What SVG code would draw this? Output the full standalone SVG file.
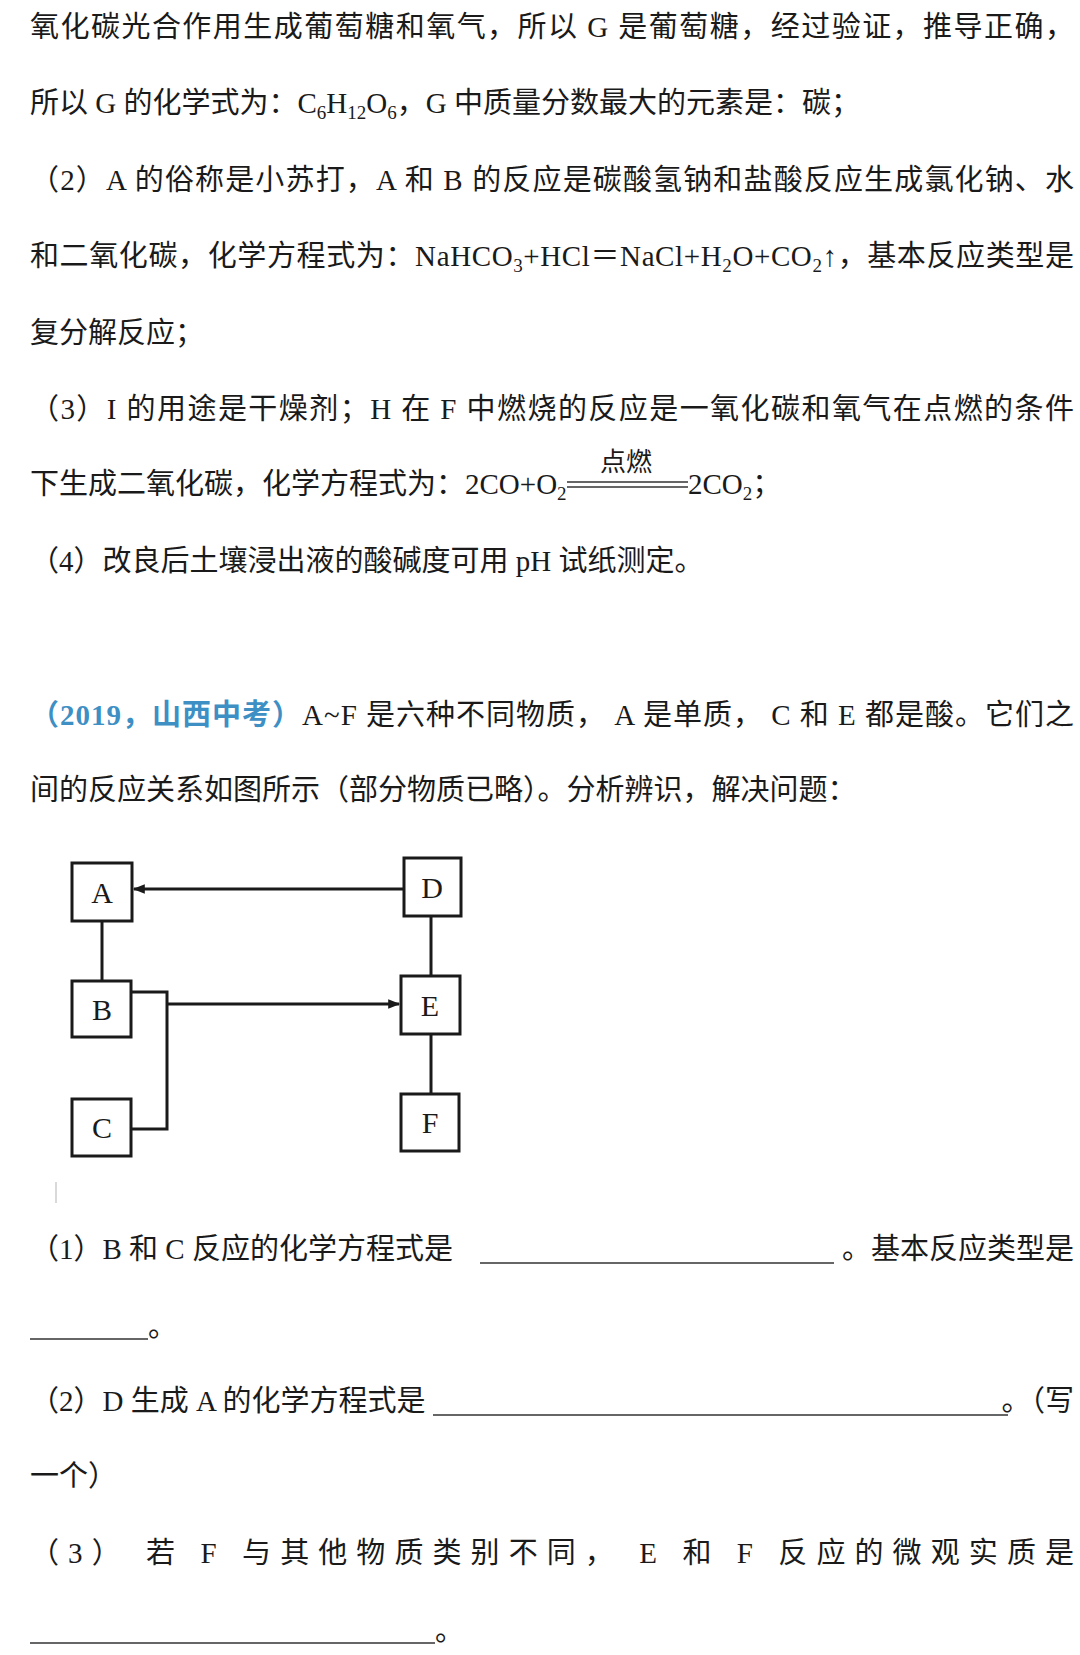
<svg xmlns="http://www.w3.org/2000/svg" width="1080" height="1655" viewBox="0 0 1080 1655">
<style>
text{font-family:"Liberation Serif","Noto Sans CJK SC",serif;font-size:29px;fill:#1a1a1a}
.blue{fill:#3d8fc4;font-weight:bold}
.sub{font-size:19px}
.box rect{fill:#fff;stroke:#1a1a1a;stroke-width:3}
.box text{font-size:30px;text-anchor:middle}
.ln{stroke:#1a1a1a;stroke-width:3;fill:none}
.ul{stroke:#333;stroke-width:1.5}
</style>
<defs><marker id="ar" viewBox="0 0 10 10" refX="9" refY="5" markerWidth="5" markerHeight="4" orient="auto"><path d="M0 1 L10 5 L0 9 Z" fill="#1a1a1a"/></marker></defs>
<rect width="1080" height="1655" fill="#fff"/>
<text x="30" y="37" textLength="1044" lengthAdjust="spacing">氧化碳光合作用生成葡萄糖和氧气，所以 G 是葡萄糖，经过验证，推导正确，</text>
<text x="30" y="113">所以 G 的化学式为：C<tspan class="sub" dy="6">6</tspan><tspan dy="-6">H</tspan><tspan class="sub" dy="6">12</tspan><tspan dy="-6">O</tspan><tspan class="sub" dy="6">6</tspan><tspan dy="-6">，G 中质量分数最大的元素是：碳；</tspan></text>
<text x="30" y="190" textLength="1044" lengthAdjust="spacing">（2）A 的俗称是小苏打，A 和 B 的反应是碳酸氢钠和盐酸反应生成氯化钠、水</text>
<text x="30" y="266" textLength="1044" lengthAdjust="spacing">和二氧化碳，化学方程式为：NaHCO<tspan class="sub" dy="6">3</tspan><tspan dy="-6">+HCl＝NaCl+H</tspan><tspan class="sub" dy="6">2</tspan><tspan dy="-6">O+CO</tspan><tspan class="sub" dy="6">2</tspan><tspan dy="-6">↑，基本反应类型是</tspan></text>
<text x="30" y="343">复分解反应；</text>
<text x="30" y="419" textLength="1044" lengthAdjust="spacing">（3）I 的用途是干燥剂；H 在 F 中燃烧的反应是一氧化碳和氧气在点燃的条件</text>
<text x="30" y="494">下生成二氧化碳，化学方程式为：2CO+O<tspan class="sub" dy="6">2</tspan></text>
<text x="626" y="471" text-anchor="middle" style="font-size:26px">点燃</text>
<line x1="567" y1="482" x2="688" y2="482" class="ul"/><line x1="567" y1="487" x2="688" y2="487" class="ul"/>
<text x="688" y="494">2CO<tspan class="sub" dy="6">2</tspan><tspan dy="-6">；</tspan></text>
<text x="30" y="571">（4）改良后土壤浸出液的酸碱度可用 pH 试纸测定。</text>
<text x="30" y="725" textLength="1044" lengthAdjust="spacing"><tspan class="blue">（2019，山西中考）</tspan>A~F 是六种不同物质， A 是单质， C 和 E 都是酸。它们之</text>
<text x="30" y="800">间的反应关系如图所示（部分物质已略）。分析辨识，解决问题：</text>
<g id="connectors">
<line x1="461" y1="889" x2="134" y2="889" class="ln" marker-end="url(#ar)"/>
<line x1="102" y1="921" x2="102" y2="981" class="ln"/>
<line x1="431" y1="916" x2="431" y2="976" class="ln"/>
<line x1="431" y1="1034" x2="431" y2="1094" class="ln"/>
<polyline points="131,992 167,992 167,1129 131,1129" class="ln"/>
<line x1="167" y1="1004" x2="399" y2="1004" class="ln" marker-end="url(#ar)"/>
</g>
<g id="A" class="box"><rect x="72" y="863" width="60" height="58"/><text x="102" y="903">A</text></g>
<g id="D" class="box"><rect x="404" y="858" width="57" height="58"/><text x="432" y="898">D</text></g>
<g id="B" class="box"><rect x="72" y="981" width="59" height="56"/><text x="102" y="1020">B</text></g>
<g id="E" class="box"><rect x="401" y="976" width="59" height="58"/><text x="430" y="1016">E</text></g>
<g id="C" class="box"><rect x="72" y="1099" width="59" height="57"/><text x="102" y="1138">C</text></g>
<g id="F" class="box"><rect x="401" y="1094" width="58" height="57"/><text x="430" y="1133">F</text></g>
<line x1="56" y1="1182" x2="56" y2="1203" stroke="#ccc" stroke-width="1.5"/>
<text x="30" y="1259">（1）B 和 C 反应的化学方程式是</text>
<line x1="480" y1="1263" x2="834" y2="1263" class="ul"/>
<text x="1074" y="1259" text-anchor="end">。基本反应类型是</text>
<line x1="30" y1="1339" x2="148" y2="1339" class="ul"/>
<text x="148" y="1337">。</text>
<text x="30" y="1411">（2）D 生成 A 的化学方程式是</text>
<line x1="433" y1="1415" x2="1008" y2="1415" class="ul"/>
<text x="1074" y="1411" text-anchor="end">。（写</text>
<text x="30" y="1486">一个）</text>
<text x="30" y="1563" textLength="1044" lengthAdjust="spacing">（3） 若 F 与其他物质类别不同， E 和 F 反应的微观实质是</text>
<line x1="30" y1="1643" x2="435" y2="1643" class="ul"/>
<text x="435" y="1641">。</text>
</svg>
